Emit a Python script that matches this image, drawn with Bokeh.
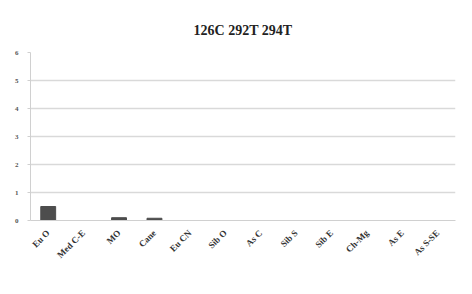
from bokeh.plotting import figure
from bokeh.models import Range1d, FixedTicker
from bokeh.embed import file_html
from bokeh.resources import INLINE

categories = ["Eu O", "Med C-E", "MO", "Cane", "Eu CN", "Sib O", "As C",
              "Sib S", "Sib E", "Ch-Mg", "As E", "As S-SE"]
values = [0.5, 0, 0.1, 0.08, 0, 0, 0, 0, 0, 0, 0, 0]
y_ticks = [0, 1, 2, 3, 4, 5, 6]
title_text = "126C 292T 294T"

FONT = "Liberation Serif"

p = figure(width=464, height=286, x_range=categories, y_range=Range1d(0, 6),
           output_backend="svg", toolbar_location=None,
           min_border_left=30, min_border_right=9,
           min_border_top=52, min_border_bottom=66)
p.vbar(x=categories, top=values, width=0.42, color="#4d4d4d")

p.title.text = title_text
p.title.align = "center"
p.title.text_font = FONT
p.title.text_font_style = "bold"
p.title.text_font_size = "14px"
p.title.text_color = "#222222"
p.title.standoff = 30

p.outline_line_color = None
p.background_fill_color = "white"
p.border_fill_color = "white"

p.xgrid.grid_line_color = None
p.ygrid.grid_line_color = "#d9d9d9"
p.ygrid.grid_line_width = 1.5

p.yaxis.ticker = FixedTicker(ticks=y_ticks)
p.yaxis.axis_line_color = "#d0d0d0"
p.yaxis.major_tick_line_color = "#d0d0d0"
p.yaxis.major_tick_out = 3
p.yaxis.major_tick_in = 0
p.yaxis.minor_tick_line_color = None
p.yaxis.major_label_text_font = FONT
p.yaxis.major_label_text_font_style = "bold"
p.yaxis.major_label_text_font_size = "7px"
p.yaxis.major_label_text_color = "#555555"
p.yaxis.major_label_standoff = 9

p.xaxis.axis_line_color = "#d0d0d0"
p.xaxis.major_tick_line_color = None
p.xaxis.major_label_orientation = 0.785
p.xaxis.major_label_text_font = FONT
p.xaxis.major_label_text_font_style = "bold"
p.xaxis.major_label_text_font_size = "9px"
p.xaxis.major_label_text_color = "#333333"
p.xaxis.major_label_standoff = 5

open("out.html", "w").write(file_html(p, INLINE))
